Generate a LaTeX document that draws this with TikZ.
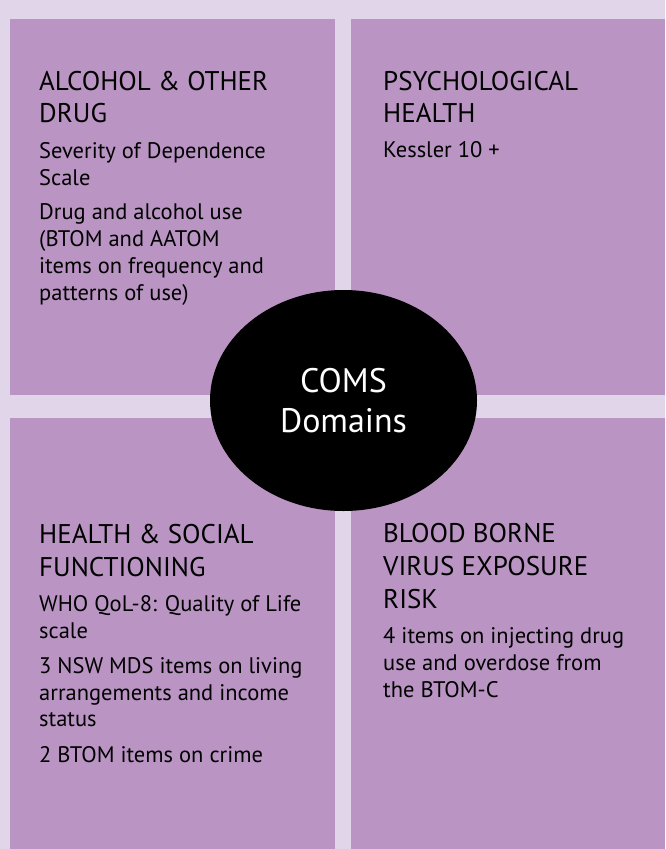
\documentclass[tikz,border=0pt]{standalone}
\usepackage{fontspec}
\setmainfont{PT Sans}
\usetikzlibrary{shapes.geometric}
\definecolor{fondlilas}{RGB}{224,213,233}
\definecolor{caselilas}{RGB}{186,149,196}
\tikzset{
  case/.style={fill=caselilas},
  titre/.style={anchor=base west, inner sep=0pt, align=left,
    font=\fontsize{27}{32.7}\selectfont},
  texte/.style={anchor=base west, inner sep=0pt, align=left,
    font=\fontsize{22.5}{26.7}\selectfont},
}
\begin{document}
\begin{tikzpicture}[x=1pt,y=-1pt] % ------ Les domaines COMS -----------------
    \fill [fondlilas] (0,0) rectangle (665,849);
    \useasboundingbox (0,0) rectangle (665,849);
    \fill [case] (10,19) rectangle (335,395);
    \fill [case] (351,19) rectangle (665,395);
    \fill [case] (10,418) rectangle (335,849);
    \fill [case] (351,418) rectangle (665,849);
    % en haut (base = derniere ligne)
    \node [titre] (alcool) at (39,122.7) {ALCOHOL \& OTHER\\DRUG};
    \node [texte] (sds) at (39,185) {Severity of Dependence\\Scale};
    \node [texte] (usage) at (39,300) {Drug and alcohol use\\(BTOM and AATOM\\items on frequency and\\patterns of use)};
    \node [titre] (psy) at (383,122.7) {PSYCHOLOGICAL\\HEALTH};
    \node [texte] (kessler) at (383,157.3) {Kessler 10 +};
    % en bas
    \node [titre] (social) at (39,576) {HEALTH \& SOCIAL\\FUNCTIONING};
    \node [texte] (qol) at (39,638.3) {WHO QoL-8: Quality of Life\\scale};
    \node [texte] (mds) at (39,726.7) {3 NSW MDS items on living\\arrangements and income\\status};
    \node [texte] (crime) at (39,762.7) {2 BTOM items on crime};
    \node [titre] (virus) at (383,608.3) {BLOOD BORNE\\VIRUS EXPOSURE\\RISK};
    \node [texte] (injection) at (383,697) {4 items on injecting drug\\use and overdose from\\the BTOM-C};
    % le centre
    \node [ellipse, fill=black, text=white, inner sep=0pt, align=center,
      minimum width=267pt, minimum height=221pt,
      font=\fontsize{34}{40}\selectfont] (coms) at (343.5,400.5) {COMS\\Domains};
\end{tikzpicture}
\end{document}
